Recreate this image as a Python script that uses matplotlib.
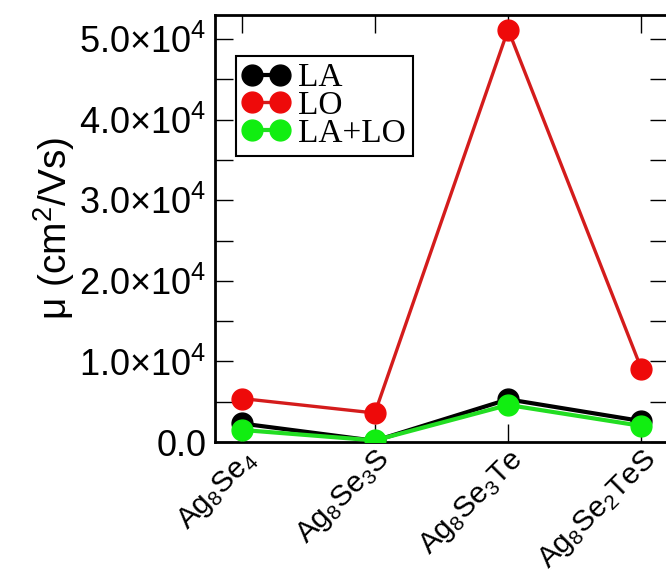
import matplotlib
matplotlib.use("Agg")
import matplotlib.pyplot as plt
from matplotlib.ticker import MultipleLocator
from matplotlib.transforms import ScaledTranslation

plt.rcParams["font.family"] = ["Liberation Sans", "DejaVu Sans"]

compounds = [r"Ag$\mathregular{_8}$Se$\mathregular{_4}$",
             r"Ag$\mathregular{_8}$Se$\mathregular{_3}$S",
             r"Ag$\mathregular{_8}$Se$\mathregular{_3}$Te",
             r"Ag$\mathregular{_8}$Se$\mathregular{_2}$TeS"]
mu_la = [2300, 150, 5300, 2600]
mu_lo = [5400, 3600, 51200, 9100]
mu_lalo = [1500, 200, 4600, 2000]

ytick_vals = [0, 1e4, 2e4, 3e4, 4e4, 5e4]
ytick_labels = ["0.0"] + ["%d.0×10$\\mathregular{^{4}}$" % k for k in range(1, 6)]

fig = plt.figure(figsize=(6.66, 5.71), dpi=100)
ax = fig.add_axes([0.3228, 0.2259, 0.6802, 0.7478])

x = range(len(compounds))
ax.plot(x, mu_la, color="black", lw=3.0, marker="o", ms=15,
        mfc="black", mec="black", label="LA", zorder=2)
ax.plot(x, mu_lo, color="#d41c1c", lw=2.4, marker="o", ms=15,
        mfc="#ee0a0a", mec="#ee0a0a", label="LO", zorder=3)
ax.plot(x, mu_lalo, color="#22dd22", lw=3.0, marker="o", ms=15,
        mfc="#11ee11", mec="#11ee11", label="LA+LO", zorder=4)

ax.set_xlim(-0.2, 3.2)
ax.set_ylim(0, 5.3e4)

ax.set_xticks(list(x))
ax.set_xticklabels(compounds, rotation=45, ha="right", va="top",
                   rotation_mode="anchor", fontsize=21.5)
# nudge rotated labels; the last one stays clear of the right edge
for i, lab in enumerate(ax.get_xticklabels()):
    dx = 0.05 if i == len(compounds) - 1 else 0.12
    lab.set_transform(lab.get_transform() + ScaledTranslation(dx, 0.15, fig.dpi_scale_trans))
ax.set_yticks(ytick_vals)
ax.set_yticklabels(ytick_labels, fontsize=26)
ax.yaxis.set_minor_locator(MultipleLocator(5000))

ax.tick_params(which="both", direction="in", length=13, width=1.0,
               top=True, right=True)
ax.tick_params(axis="y", pad=6)
ax.tick_params(axis="x", pad=2)
for sp in ax.spines.values():
    sp.set_linewidth(2.0)

ax.set_ylabel("μ (cm$\\mathregular{^2}$/Vs)", fontsize=28, labelpad=2)

leg = ax.legend(loc="upper left", bbox_to_anchor=(0.046, 0.904),
                borderaxespad=0, numpoints=2, handlelength=1.44,
                handletextpad=0.24, borderpad=0.2, labelspacing=-0.08,
                fancybox=False, edgecolor="black", framealpha=1,
                prop={"family": "Liberation Serif", "size": 24})
leg.get_frame().set_linewidth(1.5)

fig.savefig("out.png", dpi=100)
